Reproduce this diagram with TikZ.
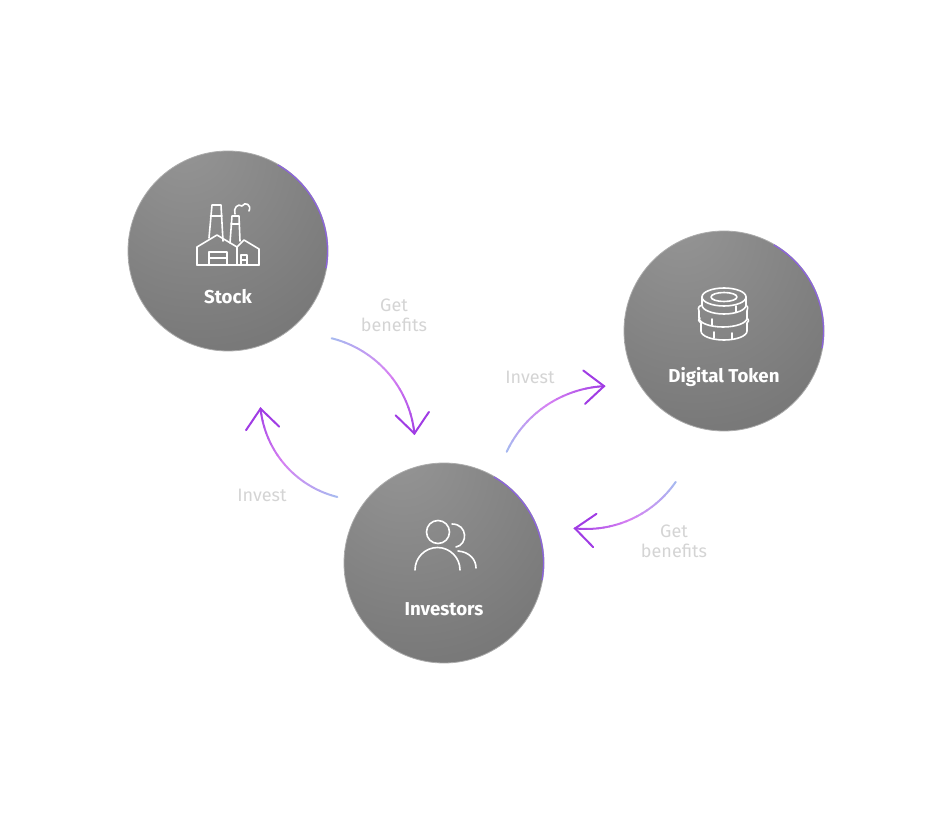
\documentclass[tikz,border=0pt]{standalone}
\usepackage{fontspec}
\setmainfont{Fira Sans}
\usetikzlibrary{calc}
\definecolor{arA}{RGB}{168,184,240}
\definecolor{arB}{RGB}{214,130,242}
\definecolor{arC}{RGB}{160,60,228}
\definecolor{g1}{RGB}{150,150,150}
\definecolor{g2}{RGB}{118,118,118}
\definecolor{g3}{RGB}{88,88,88}
\definecolor{lbl}{RGB}{212,212,212}
\definecolor{rim}{RGB}{140,100,220}
\pgfdeclareradialshading{disc}{\pgfpoint{-12bp}{30bp}}{color(0bp)=(g1); color(45bp)=(g2); color(90bp)=(g3)}
\tikzset{
  disc/.style={circle, minimum size=150pt, shading=disc, draw=g1!80, line width=0.6pt},
  icon/.style={draw=white, line width=1.2pt, line join=round, line cap=round},
  ttl/.style={text=white, font=\fontsize{14}{16}\selectfont\bfseries},
  glbl/.style={text=lbl, font=\fontsize{13.5}{15}\selectfont\fontseries{l}\selectfont, align=center},
  arw/.style={line width=1.5pt, line cap=round}
}
\newcommand{\gradarc}[5]{%
  \foreach \i in {0,...,19}{%
    \pgfmathsetmacro\aa{#3+(#4-#3)*\i/20}%
    \pgfmathsetmacro\bb{#3+(#4-#3)*(\i+1.05)/20}%
    \pgfmathtruncatemacro\p{\i<10 ? 100-\i*10 : 100-(\i-10)*10}%
    \ifnum\i<10 \def\cc{arA!\p!arB}\else\def\cc{arB!\p!arC}\fi
    \draw[arw, draw=\cc] ($(#1)+(\aa:#2)$) arc[start angle=\aa, end angle=\bb, radius=#2];
  }%
  \coordinate (#5) at ($(#1)+(#4:#2)$);
}
\newcommand{\vtip}[2]{%
  \draw[arw, draw=arC] ($(#1)+(#2+140:26)$) -- (#1) -- ($(#1)+(#2-140:26)$);
}
\begin{document}
\begin{tikzpicture}[x=0.75pt,y=-0.75pt]
\useasboundingbox (0,0) rectangle (946,834);
\node[disc] (stock) at (228,251) {};
\node[disc] (token) at (724,331) {};
\node[disc] (inv) at (444,563) {};
\foreach \n in {stock,token,inv}{
  \draw[rim, line width=1pt] ($(\n.center)+(-60:99.5)$) arc[start angle=-60, end angle=10, radius=99.5];
}
\node[ttl] (stockt) at (228,297) {Stock};
\node[ttl] (tokent) at (724,377) {Digital Token};
\node[ttl] (invt) at (444,609) {Investors};
% factory icon
\draw[icon] (197,265) -- (259,265);
\draw[icon] (197,265) -- (197,247) -- (217,235) -- (237,247) -- (237,265);
\draw[icon] (237,247) -- (244,240) -- (259,249) -- (259,265);
\draw[icon] (209,238) -- (212,205) -- (221,205) -- (223,241);
\draw[icon] (210.5,216) -- (222,216);
\draw[icon] (230,243) -- (232,216) -- (239,216) -- (240,241);
\draw[icon] (231,224) -- (239.5,224);
\draw[icon] (235,214) .. controls (233,208) and (238,203) .. (242,206) .. controls (245,201) and (252,205) .. (249,211);
\draw[icon] (209,265) -- (209,252) -- (227,252) -- (227,265);
\draw[icon] (209,258) -- (227,258);
\draw[icon] (241,265) -- (241,255) -- (247,255) -- (247,265);
\draw[icon] (241,260) -- (247,260);
% coins icon
\begin{scope}[shift={(724,0)}]
\draw[icon] (0,297) ellipse[x radius=22, y radius=9];
\draw[icon] (0,297) ellipse[x radius=13, y radius=4.5];
\draw[icon] (-22,297) -- (-22,305) arc[start angle=180, end angle=0, x radius=22, y radius=9] -- (22,297);
\draw[icon] (-22,305) .. controls (-26,307) .. (-25,311) -- (-25,318) arc[start angle=180, end angle=0, x radius=24, y radius=9] -- (23,311) .. controls (24,307) .. (22,305);
\draw[icon] (-24,318) .. controls (-26,320) .. (-23,323) -- (-23,331) arc[start angle=180, end angle=0, x radius=23, y radius=9] -- (23,323) .. controls (25,321) .. (23,318);
\draw[icon] (-12,319) -- (-12,325); \draw[icon] (12,306) -- (12,312); \draw[icon] (-10,332) -- (-10,338); \draw[icon] (8,333) -- (8,339);
\end{scope}
% people icon
\draw[icon] (438,532) circle[radius=11.5];
\draw[icon] (415,570) arc[start angle=180, end angle=360, radius=22.5];
\draw[icon] (452,524) .. controls (468,524) and (468,545) .. (456,547);
\draw[icon] (458,551) .. controls (470,552) and (476,560) .. (476,568);
% arrows
\coordinate (c1) at (305,445);
\gradarc{c1}{110}{-76}{-6}{e1}
\vtip{e1}{84}
\coordinate (c2) at (362,398);
\gradarc{c2}{102}{104}{174}{e2}
\vtip{e2}{264}
\coordinate (c3) at (610,500);
\gradarc{c3}{114}{-155}{-93}{e3}
\vtip{e3}{-3}
\coordinate (c4) at (586,420);
\gradarc{c4}{109}{34.6}{95.8}{e4}
\vtip{e4}{185.8}
% labels
\node[glbl] (l1) at (394,315) {Get\\benefits};
\node[glbl] (l2) at (262,495) {Invest};
\node[glbl] (l3) at (530,377) {Invest};
\node[glbl] (l4) at (674,541) {Get\\benefits};
\end{tikzpicture}
\end{document}
